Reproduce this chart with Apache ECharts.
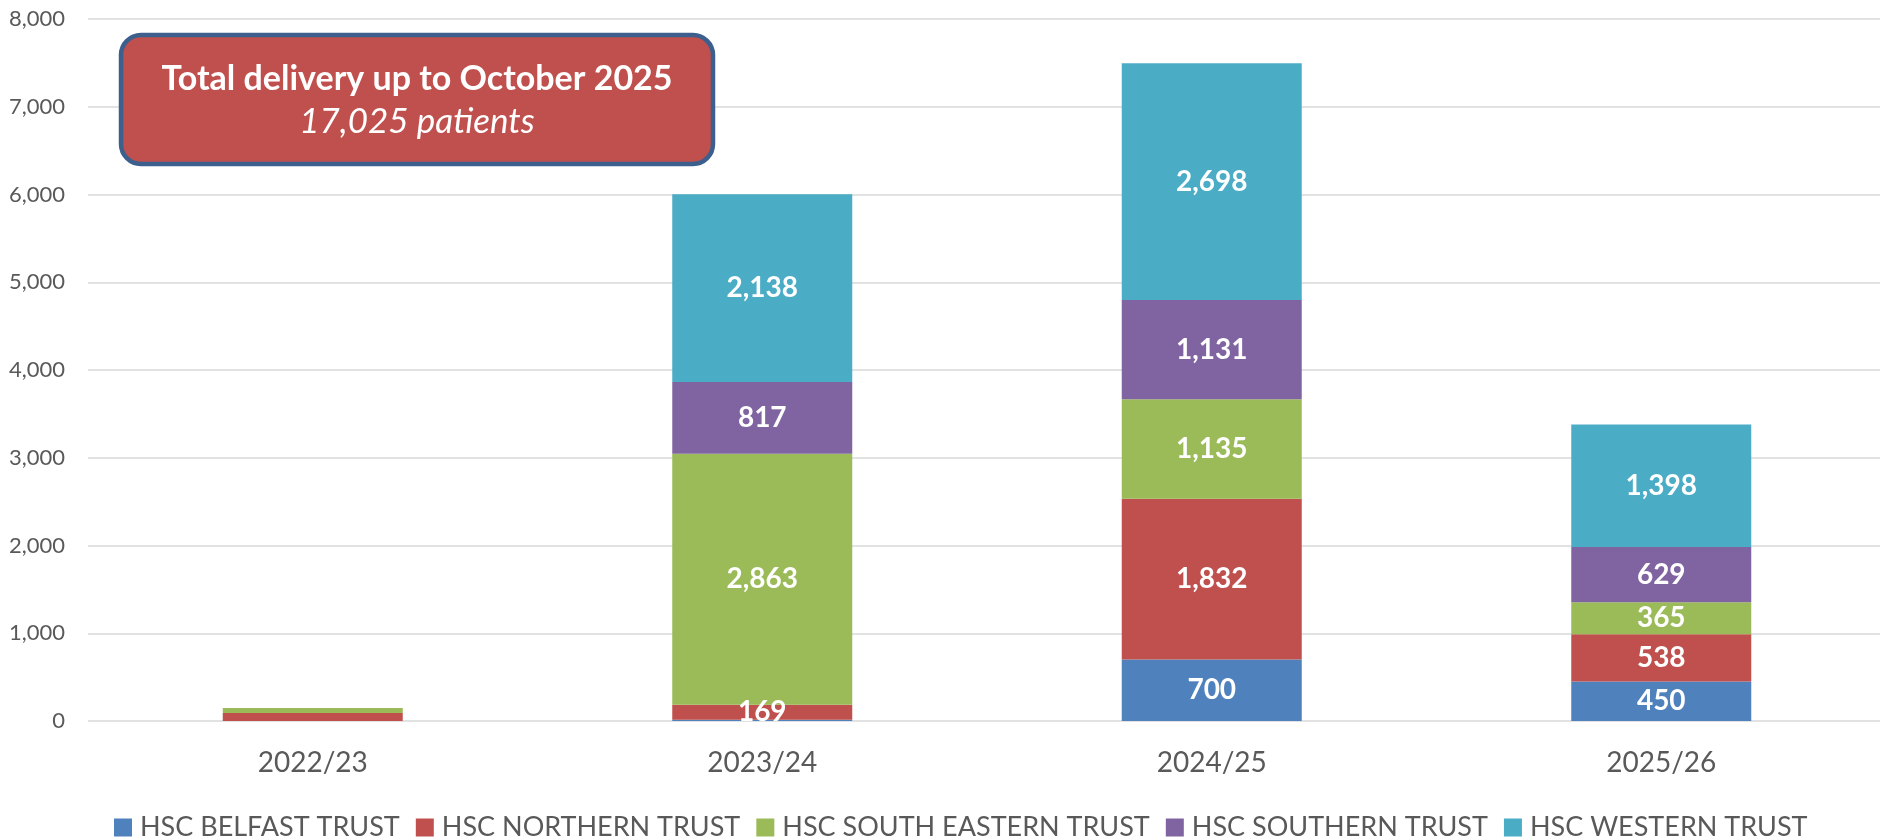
<!DOCTYPE html>
<html>
<head>
<meta charset="utf-8">
<script src="https://cdn.jsdelivr.net/npm/echarts@6/dist/echarts.min.js"></script>
<style>
html,body{margin:0;padding:0;background:#fff;overflow:hidden;}
#chart{width:1890px;height:838px;}
</style>
</head>
<body>
<div id="chart"></div>
<script>
const categories = ['2022/23', '2023/24', '2024/25', '2025/26'];
const belfast = [0, 15, 700, 450];
const northern = [90, 169, 1832, 538];
const southEastern = [57, 2863, 1135, 365];
const southern = [0, 817, 1131, 629];
const western = [0, 2138, 2698, 1398];
const seriesNames = ['HSC BELFAST TRUST', 'HSC NORTHERN TRUST', 'HSC SOUTH EASTERN TRUST', 'HSC SOUTHERN TRUST', 'HSC WESTERN TRUST'];
const seriesColors = ['#4F81BD', '#C0504D', '#9BBB59', '#8064A2', '#4BACC6'];
const yTicks = { min: 0, max: 8000, interval: 1000 };
const boxTitle = 'Total delivery up to October 2025';
const boxSubtitle = '17,025 patients';

const FONT = 'Lato, "Open Sans", sans-serif';
const chart = echarts.init(document.getElementById('chart'));
const seriesData = [belfast, northern, southEastern, southern, western];

const series = seriesData.map((d, i) => ({
  name: seriesNames[i],
  type: 'bar',
  stack: 'total',
  xAxisIndex: 1,
  yAxisIndex: 1,
  barWidth: 180,
  data: d,
  itemStyle: { color: seriesColors[i] },
  label: {
    show: true,
    position: 'inside',
    color: '#fff',
    fontFamily: FONT,
    fontWeight: 'bold',
    fontSize: 28,
    formatter: p => p.value >= 100 ? p.value.toLocaleString('en-US') : ''
  },
  emphasis: { disabled: true }
}));

chart.setOption({
  animation: false,
  grid: [
    { left: 88, width: 1792, top: 19, height: 702 },
    { left: 88, width: 1798, top: 19, height: 702 }
  ],
  xAxis: [
    { type: 'category', gridIndex: 0, data: categories, show: false },
    {
      type: 'category', gridIndex: 1, data: categories,
      axisLine: { show: false }, axisTick: { show: false },
      axisLabel: { color: '#595959', fontFamily: FONT, fontSize: 28, margin: 28 }
    }
  ],
  yAxis: [
    {
      type: 'value', gridIndex: 0, min: yTicks.min, max: yTicks.max, interval: yTicks.interval,
      axisLine: { show: false }, axisTick: { show: false },
      splitLine: { lineStyle: { color: '#D9D9D9', width: 1.5 } },
      axisLabel: {
        color: '#595959', fontFamily: FONT, fontSize: 22, margin: 23,
        formatter: v => v.toLocaleString('en-US')
      }
    },
    { type: 'value', gridIndex: 1, min: yTicks.min, max: yTicks.max, interval: yTicks.interval, show: false }
  ],
  legend: {
    left: 109, top: 809,
    icon: 'rect', itemWidth: 18, itemHeight: 18, itemGap: 16,
    textStyle: { color: '#595959', fontFamily: FONT, fontSize: 27, padding: [0, 0, 0, 3] },
    data: seriesNames
  },
  graphic: [
    {
      type: 'rect',
      shape: { x: 121, y: 35, width: 592, height: 129, r: 20 },
      style: { fill: '#C0504D', stroke: '#3C5F8D', lineWidth: 4.5 },
      z: 100
    },
    {
      type: 'text', x: 417, y: 79, z: 101,
      style: { text: boxTitle, fill: '#fff', font: 'bold 34px ' + FONT, textAlign: 'center', textVerticalAlign: 'middle' }
    },
    {
      type: 'text', x: 417, y: 122, z: 101,
      style: { text: boxSubtitle, fill: '#fff', font: 'italic 35px ' + FONT, textAlign: 'center', textVerticalAlign: 'middle' }
    }
  ],
  series: series
});
</script>
</body>
</html>
